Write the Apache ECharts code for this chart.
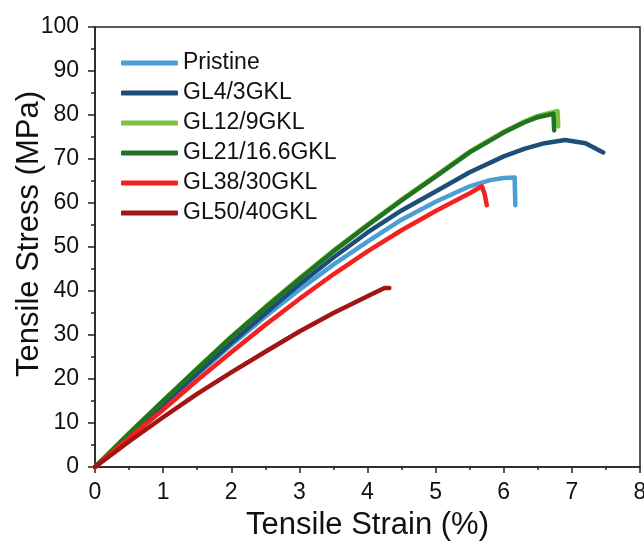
<!DOCTYPE html>
<html>
<head>
<meta charset="utf-8">
<script src="https://cdn.jsdelivr.net/npm/echarts@6/dist/echarts.min.js"></script>
<style>
  html, body { margin: 0; padding: 0; background: #fff; }
  #chart { width: 644px; height: 543px; }
</style>
</head>
<body>
<div id="chart"></div>
<script>
// Stress–strain curves: strain (%) and tensile stress (MPa) per sample
const seriesNames = ['Pristine', 'GL4/3GKL', 'GL12/9GKL', 'GL21/16.6GKL', 'GL38/30GKL', 'GL50/40GKL'];

const pristineStrain = [0, 0.5, 1, 1.5, 2, 2.5, 3, 3.5, 4, 4.5, 5, 5.5, 5.8, 6.0, 6.16, 6.17];
const pristineStress = [0, 7.1, 14.1, 21.0, 27.7, 34.2, 40.3, 46.0, 51.2, 56.2, 60.3, 63.8, 65.2, 65.7, 65.8, 59.5];

const gl4Strain = [0, 0.5, 1, 1.5, 2, 2.5, 3, 3.5, 4, 4.5, 5, 5.5, 6, 6.3, 6.6, 6.9, 7.2, 7.46];
const gl4Stress = [0, 7.2, 14.3, 21.3, 28.2, 34.9, 41.5, 47.6, 53.3, 58.3, 62.6, 67.0, 70.6, 72.3, 73.6, 74.3, 73.6, 71.5];

const gl12Strain = [0, 0.5, 1, 1.5, 2, 2.5, 3, 3.5, 4, 4.5, 5, 5.5, 6, 6.3, 6.5, 6.79, 6.80];
const gl12Stress = [0, 7.7, 15.1, 22.4, 29.6, 36.4, 42.9, 49.2, 55.1, 60.8, 66.2, 71.7, 76.2, 78.5, 79.8, 80.9, 77.4];

const gl21Strain = [0, 0.5, 1, 1.5, 2, 2.5, 3, 3.5, 4, 4.5, 5, 5.5, 6, 6.3, 6.5, 6.73, 6.74];
const gl21Stress = [0, 7.6, 15.0, 22.3, 29.5, 36.2, 42.7, 49.0, 54.9, 60.6, 66.0, 71.5, 76.0, 78.3, 79.5, 80.3, 76.5];

const gl38Strain = [0, 0.5, 1, 1.5, 2, 2.5, 3, 3.5, 4, 4.5, 5, 5.5, 5.68, 5.72, 5.75];
const gl38Stress = [0, 6.6, 13.0, 19.7, 26.1, 32.3, 38.2, 43.8, 49.0, 53.8, 58.2, 62.2, 63.8, 62.0, 59.5];

const gl50Strain = [0, 0.5, 1, 1.5, 2, 2.5, 3, 3.5, 4, 4.25, 4.32];
const gl50Stress = [0, 5.8, 11.3, 16.6, 21.5, 26.2, 30.8, 35.0, 38.8, 40.7, 40.7];

const seriesColors = ['#4b9fd2', '#1b4f7a', '#7cc242', '#22731f', '#f42121', '#a31515'];

const xTicks = [0, 1, 2, 3, 4, 5, 6, 7, 8];
const yTicks = [0, 10, 20, 30, 40, 50, 60, 70, 80, 90, 100];

function pairs(xs, ys) {
  return xs.map((x, i) => [x, ys[i]]);
}

const curves = [
  pairs(pristineStrain, pristineStress),
  pairs(gl4Strain, gl4Stress),
  pairs(gl12Strain, gl12Stress),
  pairs(gl21Strain, gl21Stress),
  pairs(gl38Strain, gl38Stress),
  pairs(gl50Strain, gl50Stress)
];

const FONT = '"Liberation Sans", Arial, sans-serif';
const AXIS_COLOR = '#222';
const TEXT_COLOR = '#111';

const chart = echarts.init(document.getElementById('chart'), null, { renderer: 'canvas' });

chart.setOption({
  animation: false,
  backgroundColor: '#fff',
  grid: {
    left: 95, right: 4, top: 27, bottom: 76,
    outerBoundsMode: 'none',
    containLabel: false,
    show: true, borderColor: AXIS_COLOR, borderWidth: 1.5, backgroundColor: 'transparent'
  },
  legend: {
    orient: 'vertical',
    left: 116, top: 46,
    itemWidth: 57, itemHeight: 5,
    itemGap: 6,
    icon: 'roundRect',
    data: seriesNames,
    textStyle: { fontFamily: FONT, fontSize: 23, color: TEXT_COLOR, lineHeight: 24 }
  },
  xAxis: {
    type: 'value',
    min: xTicks[0], max: xTicks[xTicks.length - 1], interval: 1,
    name: 'Tensile Strain (%)',
    nameLocation: 'middle', nameGap: 43,
    nameMoveOverlap: false,
    nameTextStyle: { fontFamily: FONT, fontSize: 31, color: TEXT_COLOR },
    axisLine: { show: true, lineStyle: { color: AXIS_COLOR, width: 1.5 } },
    axisTick: { show: true, inside: false, length: 6, lineStyle: { color: AXIS_COLOR, width: 1.5 } },
    minorTick: { show: true, splitNumber: 2, length: 3, lineStyle: { color: AXIS_COLOR, width: 1.5 } },
    axisLabel: { fontFamily: FONT, fontSize: 23, color: TEXT_COLOR, margin: 14 },
    splitLine: { show: false }
  },
  yAxis: {
    type: 'value',
    min: yTicks[0], max: yTicks[yTicks.length - 1], interval: 10,
    name: 'Tensile Stress (MPa)',
    nameLocation: 'middle', nameGap: 50, nameRotate: 90,
    nameMoveOverlap: false,
    nameTextStyle: { fontFamily: FONT, fontSize: 31, color: TEXT_COLOR, padding: [0, 0, 0, 26] },
    axisLine: { show: true, lineStyle: { color: AXIS_COLOR, width: 1.5 } },
    axisTick: { show: true, inside: false, length: 7, lineStyle: { color: AXIS_COLOR, width: 1.5 } },
    minorTick: { show: true, splitNumber: 2, length: 4, lineStyle: { color: AXIS_COLOR, width: 1.5 } },
    axisLabel: { fontFamily: FONT, fontSize: 23, color: TEXT_COLOR, margin: 16 },
    splitLine: { show: false }
  },
  series: seriesNames.map((name, i) => ({
    name: name,
    type: 'line',
    data: curves[i],
    showSymbol: false,
    symbol: 'none',
    smooth: false,
    color: seriesColors[i],
    lineStyle: { width: 4.5, color: seriesColors[i], cap: 'round', join: 'round' },
    emphasis: { disabled: true }
  }))
});
</script>
</body>
</html>
